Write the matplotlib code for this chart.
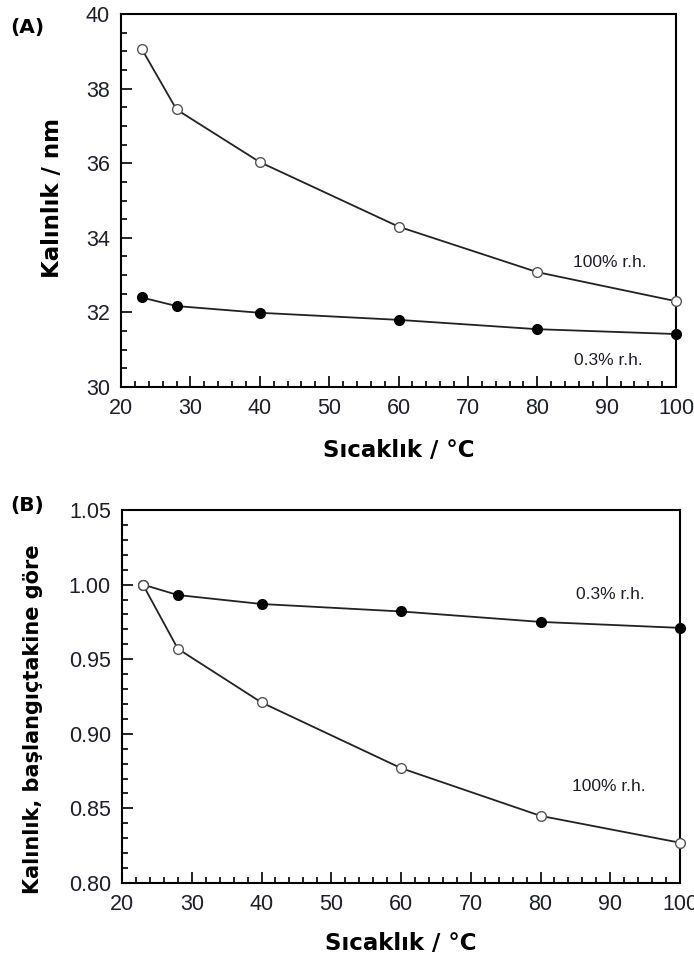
import numpy as np
import matplotlib
matplotlib.use('Agg')
import matplotlib.pyplot as plt
from matplotlib.ticker import MultipleLocator

# temperature points (°C)
temps = [23, 28, 40, 60, 80, 100]

# film thickness in nm
thick_wet = [39.06, 37.44, 36.03, 34.30, 33.08, 32.30]
thick_dry = [32.40, 32.17, 31.99, 31.80, 31.55, 31.42]

# thickness relative to the initial value
rel_dry = [1.000, 0.993, 0.987, 0.982, 0.975, 0.971]
rel_wet = [1.000, 0.957, 0.921, 0.877, 0.845, 0.827]

label_wet = '100% r.h.'
label_dry = '0.3% r.h.'

tick_font = 'Liberation Sans'
label_font = 'DejaVu Sans'
tick_color = '#1d1d2b'


def style_axes(ax, ylim, ymajor, yminor, yfmt):
    ax.set_xlim(20, 100)
    ax.set_ylim(*ylim)
    ax.xaxis.set_major_locator(MultipleLocator(10))
    ax.xaxis.set_minor_locator(MultipleLocator(2))
    ax.yaxis.set_major_locator(MultipleLocator(ymajor))
    ax.yaxis.set_minor_locator(MultipleLocator(yminor))
    ax.yaxis.set_major_formatter(plt.FormatStrFormatter(yfmt))
    ax.tick_params(which='both', direction='in', top=False, right=False,
                   width=1.2, colors='black', labelcolor=tick_color)
    ax.tick_params(which='major', length=8, labelsize=15.5, pad=8)
    ax.tick_params(which='minor', length=4)
    for lab in ax.get_xticklabels() + ax.get_yticklabels():
        lab.set_family(tick_font)
    for sp in ax.spines.values():
        sp.set_linewidth(1.5)


def draw_series(ax, y, filled):
    if filled:
        ax.plot(temps, y, '-o', color='#222222', lw=1.3, ms=7,
                mfc='black', mec='black', clip_on=False, zorder=3)
    else:
        ax.plot(temps, y, '-o', color='#222222', lw=1.3, ms=7,
                mfc='white', mec='#555555', mew=1.0, clip_on=False, zorder=3)


fig = plt.figure(figsize=(6.94, 9.56), dpi=100)

# panel A: absolute thickness
ax1 = fig.add_axes([121 / 694, 1 - 387 / 956, 555 / 694, 373 / 956])
draw_series(ax1, thick_wet, filled=False)
draw_series(ax1, thick_dry, filled=True)
style_axes(ax1, (30, 40), 2, 0.5, '%d')
ax1.text(90.5, 33.35, label_wet, fontsize=12.5, family=tick_font,
         color=tick_color, ha='center', va='center')
ax1.text(90.3, 30.72, label_dry, fontsize=12.5, family=tick_font,
         color=tick_color, ha='center', va='center')
ax1.set_xlabel('Sıcaklık / °C', fontsize=16.5, fontweight='bold',
               family=label_font, labelpad=14)
ax1.set_ylabel('Kalınlık / nm', fontsize=16.5, fontweight='bold',
               family=label_font)
ax1.yaxis.set_label_coords(-0.102, 0.508)
fig.text(10 / 694, 1 - 28 / 956, '(A)', fontsize=14.5, fontweight='bold',
         family=label_font, va='center')

# panel B: relative thickness
ax2 = fig.add_axes([122 / 694, 1 - 883 / 956, 558 / 694, 373 / 956])
draw_series(ax2, rel_dry, filled=True)
draw_series(ax2, rel_wet, filled=False)
style_axes(ax2, (0.80, 1.05), 0.05, 0.01, '%.2f')
ax2.text(90, 0.9935, label_dry, fontsize=12.5, family=tick_font,
         color=tick_color, ha='center', va='center')
ax2.text(89.8, 0.8645, label_wet, fontsize=12.5, family=tick_font,
         color=tick_color, ha='center', va='center')
ax2.set_xlabel('Sıcaklık / °C', fontsize=16.5, fontweight='bold',
               family=label_font, labelpad=12)
ax2.set_ylabel('Kalınlık, başlangıçtakine göre', fontsize=15,
               fontweight='bold', family=label_font)
ax2.yaxis.set_label_coords(-0.142, 0.44)
fig.text(10 / 694, 1 - 505 / 956, '(B)', fontsize=14.5, fontweight='bold',
         family=label_font, va='center')

fig.savefig('out.png', dpi=100)
